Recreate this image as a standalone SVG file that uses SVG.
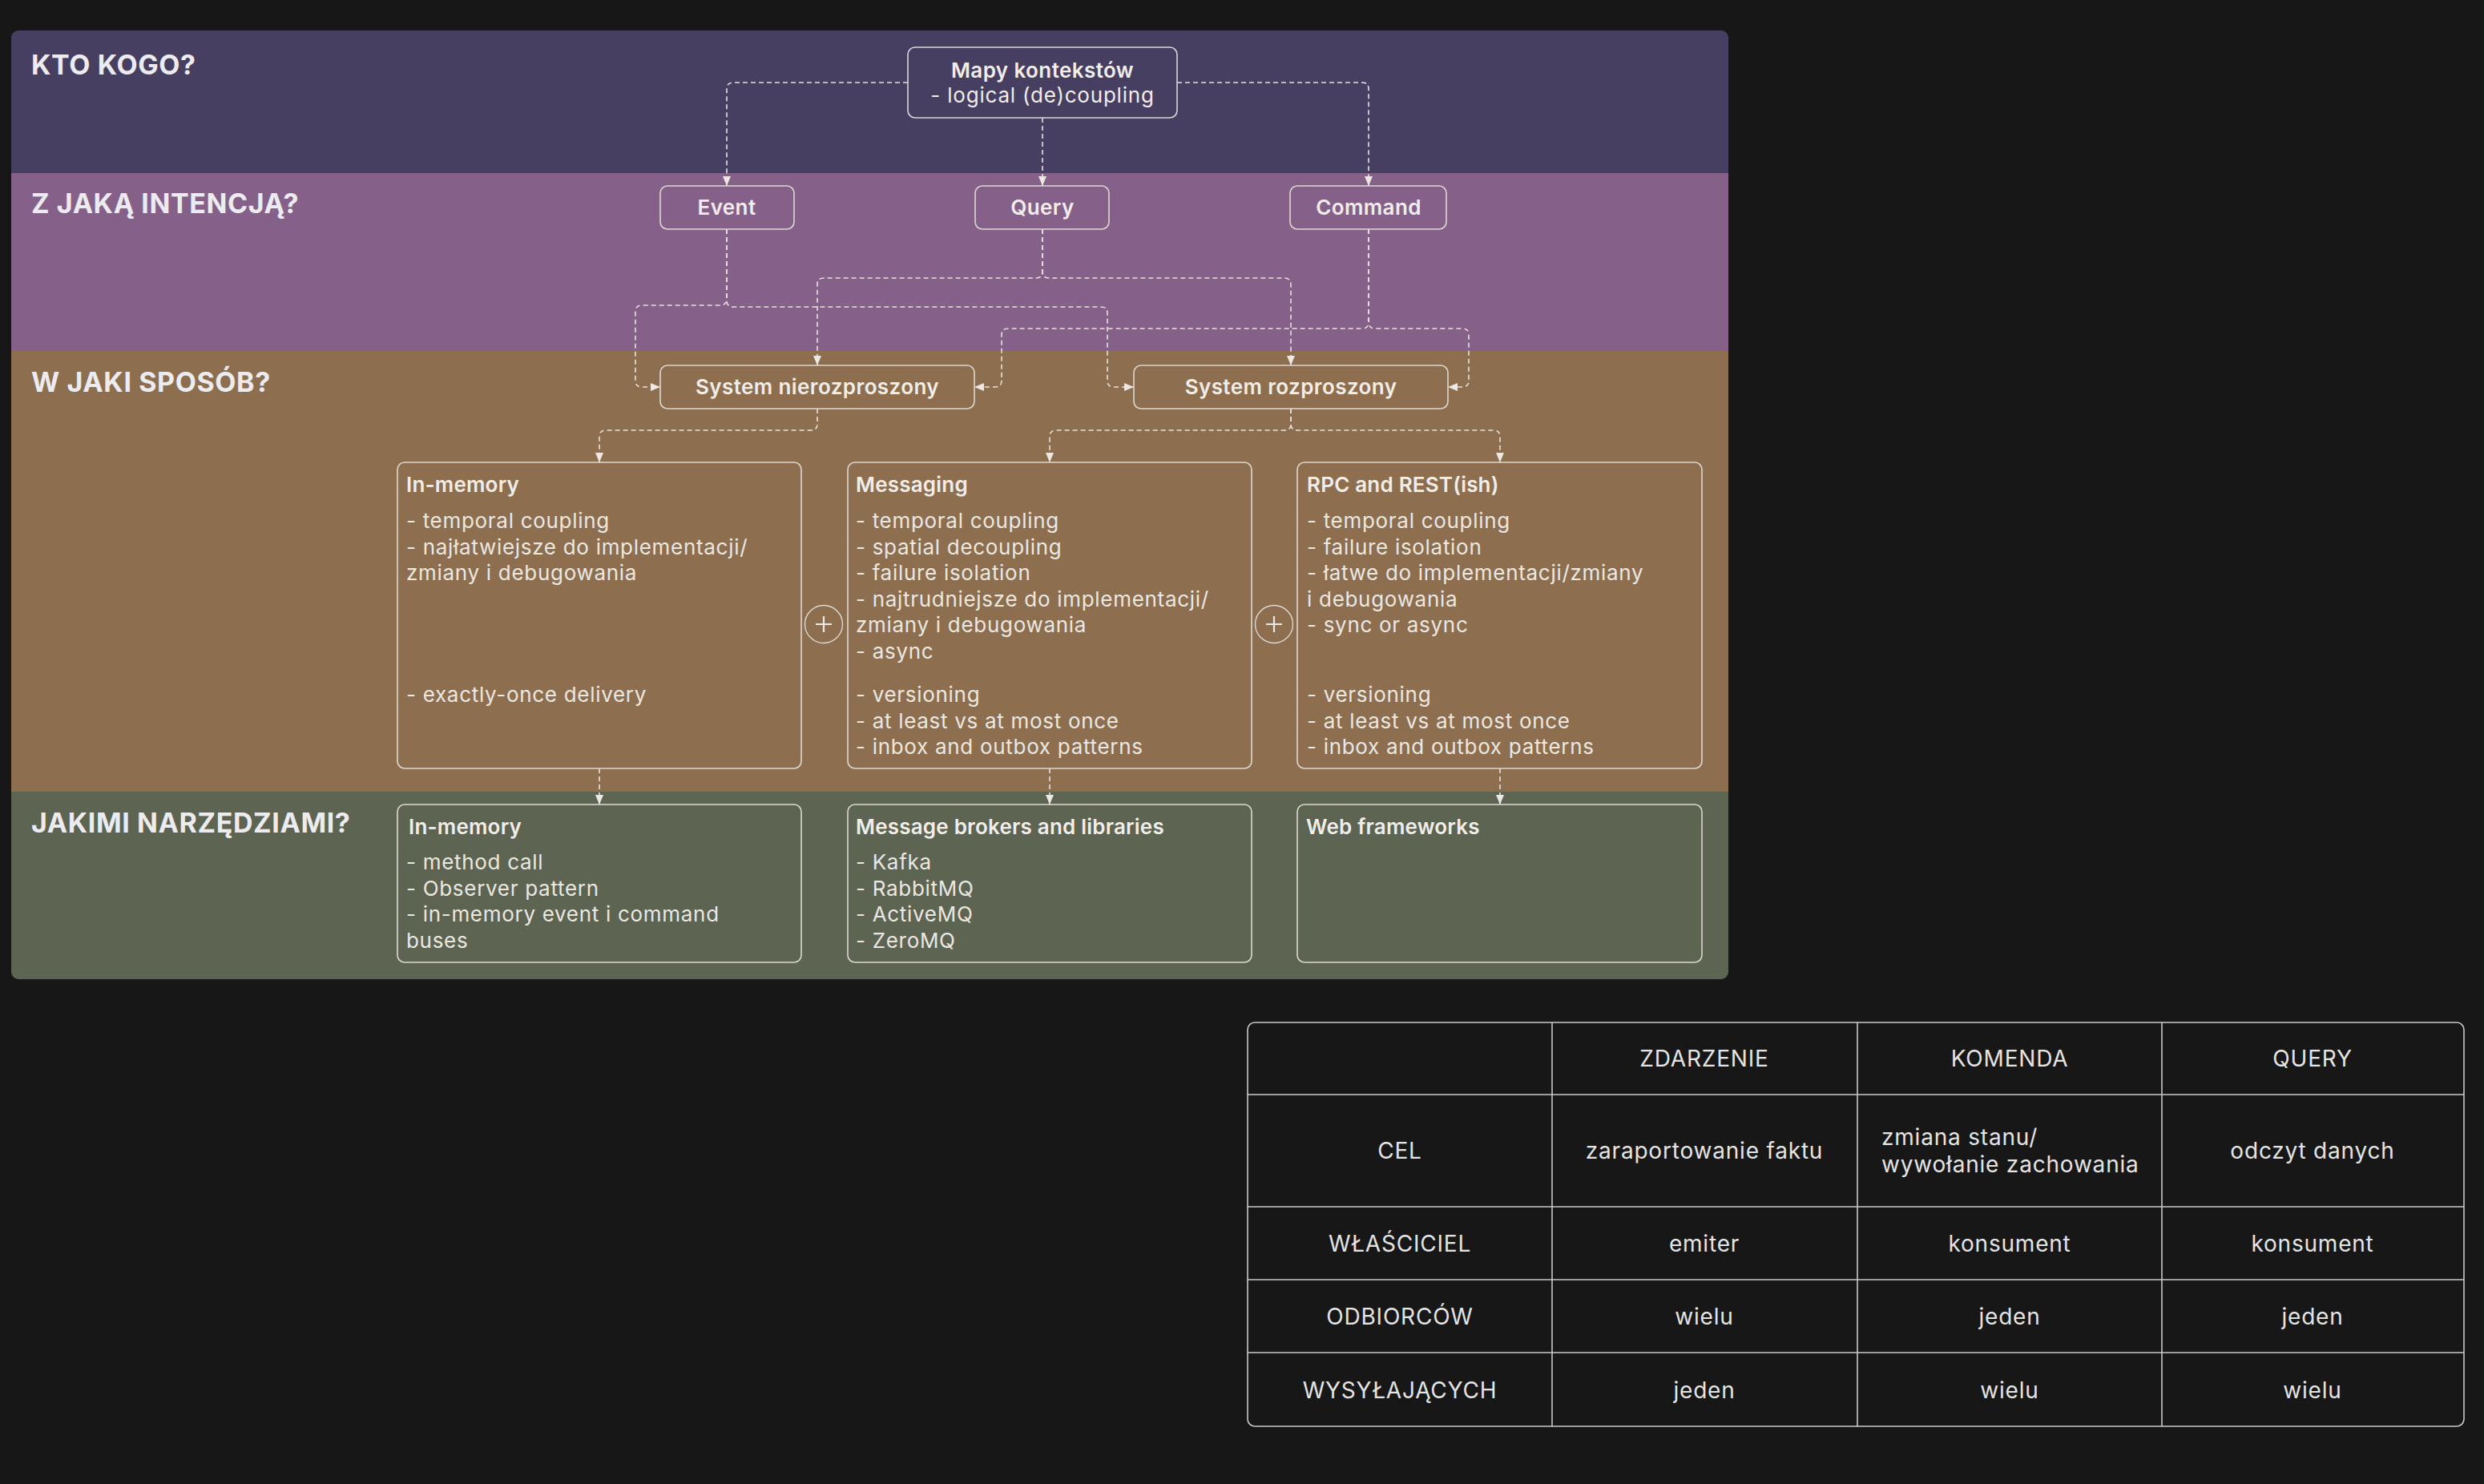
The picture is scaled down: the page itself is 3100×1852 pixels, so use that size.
<svg xmlns="http://www.w3.org/2000/svg" width="3100" height="1852" viewBox="0 0 3100 1852">
<defs>
<style>
.bt{font-family:Inter,"Liberation Sans",sans-serif;font-weight:700;font-size:34px;fill:#ecebef;letter-spacing:0.6px}
.box{fill:none;stroke:#ddd8d2;stroke-width:1.6}
.lbl{font-family:Inter,"Liberation Sans",sans-serif;font-weight:600;font-size:26px;fill:#f1ede8;text-anchor:middle;letter-spacing:0.4px}
.sub{font-family:Inter,"Liberation Sans",sans-serif;font-weight:400;font-size:26px;fill:#f1ede8;text-anchor:middle;letter-spacing:0.8px}
.ttl{font-family:Inter,"Liberation Sans",sans-serif;font-weight:600;font-size:26px;fill:#f1ede8;letter-spacing:0.2px}
.body{font-family:Inter,"Liberation Sans",sans-serif;font-weight:400;font-size:26px;fill:#ebe7e1;letter-spacing:0.7px}
.con{fill:none;stroke:#e6e1dc;stroke-width:1.6;stroke-dasharray:6 4;marker-end:url(#arr)}
.tbl{font-family:Inter,"Liberation Sans",sans-serif;font-weight:400;font-size:28px;fill:#e4e4e4;text-anchor:middle;letter-spacing:0.8px}
.tl{stroke:#c9c9c9;stroke-width:1.6;fill:none}
</style>
<marker id="arr" markerWidth="12" markerHeight="10" refX="12" refY="5" orient="auto" markerUnits="userSpaceOnUse">
<path d="M0,0 L12,5 L0,10 z" fill="#ece8e3"/>
</marker>
<clipPath id="panelClip"><rect x="14" y="38" width="2143" height="1184" rx="9"/></clipPath>
</defs>
<rect width="3100" height="1852" fill="#171717"/>

<g id="bands" clip-path="url(#panelClip)">
<rect x="14" y="38" width="2143" height="178" fill="#463f62"/>
<rect x="14" y="216" width="2143" height="222" fill="#85618a"/>
<rect x="14" y="438" width="2143" height="550" fill="#8d6f50"/>
<rect x="14" y="988" width="2143" height="234" fill="#5d6452"/>
</g>
<g id="band-titles">
<text class="bt" x="39" y="93">KTO KOGO?</text>
<text class="bt" x="39" y="266">Z JAKĄ INTENCJĄ?</text>
<text class="bt" x="39" y="489">W JAKI SPOSÓB?</text>
<text class="bt" x="39" y="1039">JAKIMI NARZĘDZIAMI?</text>
</g>

<g id="connectors">
<path class="con" d="M1133,103 H915 Q907,103 907,111 V232"/>
<path class="con" d="M1301,147 V232"/>
<path class="con" d="M1469,103 H1700 Q1708,103 1708,111 V232"/>
<path class="con" d="M907,286 V373 Q907,381 899,381 H801 Q793,381 793,389 V475 Q793,483 801,483 H824"/>
<path class="con" d="M907,286 V375 Q907,383 915,383 H1374 Q1382,383 1382,391 V475 Q1382,483 1390,483 H1415"/>
<path class="con" d="M1301,286 V339 Q1301,347 1293,347 H1028 Q1020,347 1020,355 V456"/>
<path class="con" d="M1301,286 V339 Q1301,347 1309,347 H1603 Q1611,347 1611,355 V456"/>
<path class="con" d="M1708,286 V402 Q1708,410 1700,410 H1258 Q1250,410 1250,418 V475 Q1250,483 1242,483 H1216"/>
<path class="con" d="M1708,286 V402 Q1708,410 1716,410 H1825 Q1833,410 1833,418 V475 Q1833,483 1825,483 H1807"/>
<path class="con" d="M1020,510 V529 Q1020,537 1012,537 H756 Q748,537 748,545 V577"/>
<path class="con" d="M1611,510 V529 Q1611,537 1603,537 H1318 Q1310,537 1310,545 V577"/>
<path class="con" d="M1611,510 V529 Q1611,537 1619,537 H1864 Q1872,537 1872,545 V577"/>
<path class="con" d="M748,959 V1004"/>
<path class="con" d="M1310,959 V1004"/>
<path class="con" d="M1872,959 V1004"/>
</g>

<g id="node-mapy">
<rect class="box" x="1133" y="59" width="336" height="88" rx="9"/>
<text class="lbl" x="1301" y="97">Mapy kontekstów</text>
<text class="sub" x="1301" y="128">- logical (de)coupling</text>
</g>
<g id="node-event">
<rect class="box" x="824" y="232" width="167" height="54" rx="9"/>
<text class="lbl" x="907" y="268">Event</text>
</g>
<g id="node-query">
<rect class="box" x="1217" y="232" width="167" height="54" rx="9"/>
<text class="lbl" x="1301" y="268">Query</text>
</g>
<g id="node-command">
<rect class="box" x="1610" y="232" width="195" height="54" rx="9"/>
<text class="lbl" x="1708" y="268">Command</text>
</g>
<g id="node-sys-nierozproszony">
<rect class="box" x="824" y="456" width="392" height="54" rx="9"/>
<text class="lbl" x="1020" y="492">System nierozproszony</text>
</g>
<g id="node-sys-rozproszony">
<rect class="box" x="1415" y="456" width="392" height="54" rx="9"/>
<text class="lbl" x="1611" y="492">System rozproszony</text>
</g>

<g id="node-inmemory">
<rect class="box" x="496" y="577" width="504" height="382" rx="9"/>
<text class="ttl" x="507" y="614">In-memory</text>
<text class="body" x="507" y="659">- temporal coupling</text>
<text class="body" x="507" y="691.5">- najłatwiejsze do implementacji/</text>
<text class="body" x="507" y="724">zmiany i debugowania</text>
<text class="body" x="507" y="876">- exactly-once delivery</text>
</g>
<g id="plus-1">
<circle cx="1028" cy="779" r="23.5" fill="none" stroke="#ddd8d2" stroke-width="1.4"/>
<path d="M1018,779 H1038 M1028,769 V789" stroke="#ece8e3" stroke-width="2.2"/>
</g>
<g id="node-messaging">
<rect class="box" x="1058" y="577" width="504" height="382" rx="9"/>
<text class="ttl" x="1068" y="614">Messaging</text>
<text class="body" x="1068" y="659">- temporal coupling</text>
<text class="body" x="1068" y="691.5">- spatial decoupling</text>
<text class="body" x="1068" y="724">- failure isolation</text>
<text class="body" x="1068" y="756.5">- najtrudniejsze do implementacji/</text>
<text class="body" x="1068" y="789">zmiany i debugowania</text>
<text class="body" x="1068" y="821.5">- async</text>
<text class="body" x="1068" y="876">- versioning</text>
<text class="body" x="1068" y="908.5">- at least vs at most once</text>
<text class="body" x="1068" y="941">- inbox and outbox patterns</text>
</g>
<g id="plus-2">
<circle cx="1590" cy="779" r="23.5" fill="none" stroke="#ddd8d2" stroke-width="1.4"/>
<path d="M1580,779 H1600 M1590,769 V789" stroke="#ece8e3" stroke-width="2.2"/>
</g>
<g id="node-rpc">
<rect class="box" x="1619" y="577" width="505" height="382" rx="9"/>
<text class="ttl" x="1631" y="614">RPC and REST(ish)</text>
<text class="body" x="1631" y="659">- temporal coupling</text>
<text class="body" x="1631" y="691.5">- failure isolation</text>
<text class="body" x="1631" y="724">- łatwe do implementacji/zmiany</text>
<text class="body" x="1631" y="756.5">i debugowania</text>
<text class="body" x="1631" y="789">- sync or async</text>
<text class="body" x="1631" y="876">- versioning</text>
<text class="body" x="1631" y="908.5">- at least vs at most once</text>
<text class="body" x="1631" y="941">- inbox and outbox patterns</text>
</g>

<g id="node-tools-inmemory">
<rect class="box" x="496" y="1004" width="504" height="197" rx="9"/>
<text class="ttl" x="510" y="1041">In-memory</text>
<text class="body" x="507" y="1085">- method call</text>
<text class="body" x="507" y="1117.5">- Observer pattern</text>
<text class="body" x="507" y="1150">- in-memory event i command</text>
<text class="body" x="507" y="1182.5">buses</text>
</g>
<g id="node-tools-brokers">
<rect class="box" x="1058" y="1004" width="504" height="197" rx="9"/>
<text class="ttl" x="1068" y="1041">Message brokers and libraries</text>
<text class="body" x="1068" y="1085">- Kafka</text>
<text class="body" x="1068" y="1117.5">- RabbitMQ</text>
<text class="body" x="1068" y="1150">- ActiveMQ</text>
<text class="body" x="1068" y="1182.5">- ZeroMQ</text>
</g>
<g id="node-tools-web">
<rect class="box" x="1619" y="1004" width="505" height="197" rx="9"/>
<text class="ttl" x="1630" y="1041">Web frameworks</text>
</g>

<g id="table">
<rect class="tl" x="1557" y="1276" width="1518" height="504" rx="9"/>
<path class="tl" d="M1937,1276 V1780 M2318,1276 V1780 M2698,1276 V1780 M1557,1366 H3075 M1557,1506 H3075 M1557,1597 H3075 M1557,1688 H3075"/>
<text class="tbl" x="2127" y="1331">ZDARZENIE</text>
<text class="tbl" x="2508" y="1331">KOMENDA</text>
<text class="tbl" x="2886" y="1331">QUERY</text>
<text class="tbl" x="1747" y="1446">CEL</text>
<text class="tbl" x="2127" y="1446">zaraportowanie faktu</text>
<text class="tbl" x="2348" y="1429" style="text-anchor:start">zmiana stanu/</text>
<text class="tbl" x="2348" y="1463" style="text-anchor:start">wywołanie zachowania</text>
<text class="tbl" x="2886" y="1446">odczyt danych</text>
<text class="tbl" x="1747" y="1562">WŁAŚCICIEL</text>
<text class="tbl" x="2127" y="1562">emiter</text>
<text class="tbl" x="2508" y="1562">konsument</text>
<text class="tbl" x="2886" y="1562">konsument</text>
<text class="tbl" x="1747" y="1653">ODBIORCÓW</text>
<text class="tbl" x="2127" y="1653">wielu</text>
<text class="tbl" x="2508" y="1653">jeden</text>
<text class="tbl" x="2886" y="1653">jeden</text>
<text class="tbl" x="1747" y="1745">WYSYŁAJĄCYCH</text>
<text class="tbl" x="2127" y="1745">jeden</text>
<text class="tbl" x="2508" y="1745">wielu</text>
<text class="tbl" x="2886" y="1745">wielu</text>
</g>
</svg>
